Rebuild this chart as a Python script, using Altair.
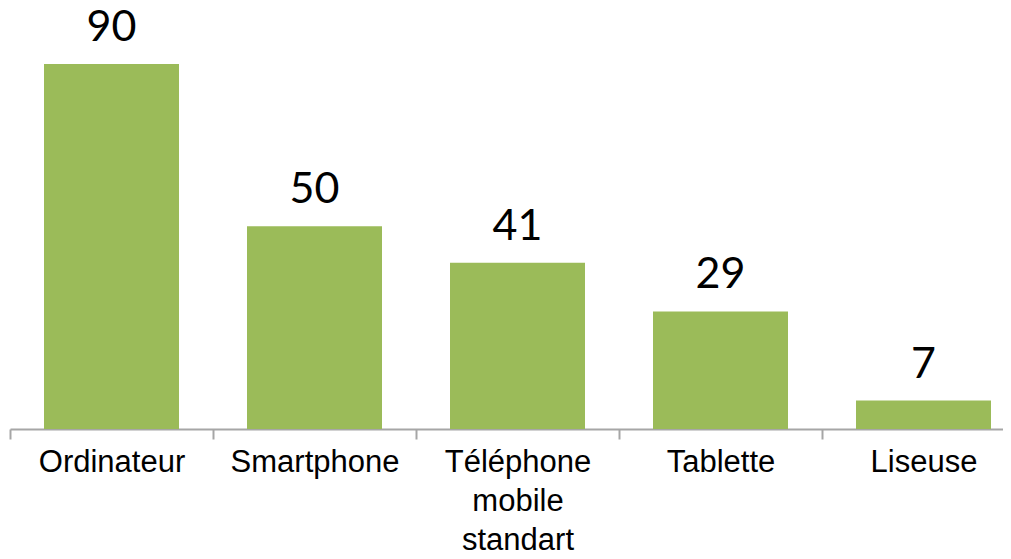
import altair as alt
import pandas as pd

categories = ["Ordinateur", "Smartphone", "Téléphone mobile standart", "Tablette", "Liseuse"]
values = [90, 50, 41, 29, 7]

df = pd.DataFrame({"cat": categories, "val": values})

x = alt.X("cat:N", sort=None, title=None,
          scale=alt.Scale(paddingInner=0, paddingOuter=0, range=[0, 1015]),
          axis=alt.Axis(labelAngle=0, tickBand="extent", domainColor="#a6a6a6",
                        tickColor="#a6a6a6", domainWidth=2, tickWidth=2, tickSize=10,
                        labelFont="Liberation Sans", labelFontSize=31, labelColor="#000000",
                        labelPadding=8, labelLineHeight=39, labelLimit=300,
                        labelExpr="datum.label == 'Téléphone mobile standart' ? split(datum.label, ' ') : datum.label"))
y = alt.Y("val:Q", scale=alt.Scale(domain=[0, 102.33], nice=False), axis=None)

bars = alt.Chart(df).mark_bar(color="#9BBB59", width=alt.RelativeBandSize(0.665)).encode(x=x, y=y)
labels = alt.Chart(df).mark_text(baseline="alphabetic", dy=-23, fontSize=43,
                                  font="Lato", color="#000000").encode(
    x=alt.X("cat:N", sort=None), y=y, text="val:Q")

chart = (bars + labels).properties(
    width=993, height=415,
    autosize=alt.AutoSizeParams(type="none"),
    padding={"left": 2, "top": 6, "right": 0, "bottom": 122},
).configure_view(stroke=None)

chart.save("out.html", embed_options={"renderer": "svg", "actions": False})
